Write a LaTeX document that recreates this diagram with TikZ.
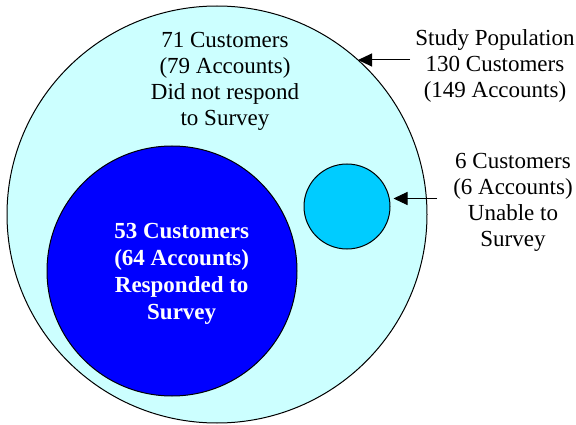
\documentclass[tikz,border=0pt]{standalone}
\usepackage{fontspec}
\setmainfont{Liberation Serif}
\usetikzlibrary{arrows.meta,shapes.geometric}
\definecolor{pale}{HTML}{CCFFFF}
\definecolor{deepblue}{HTML}{0000FF}
\definecolor{skyc}{HTML}{00CCFF}
\tikzset{
  disc/.style={ellipse,draw=black,line width=1pt,inner sep=0pt},
  lbl/.style={align=center,inner sep=0pt,font=\fontsize{23}{26.2}\selectfont},
  arr/.style={-{Triangle[length=14pt,width=13pt]},line width=1pt}
}
\begin{document}
\begin{tikzpicture}[x=1pt,y=-1pt]
\useasboundingbox (0,0) rectangle (576,425);
\node[disc,fill=pale,minimum width=420pt,minimum height=417pt] (big) at (217,214.5) {};
\node[disc,fill=deepblue,minimum width=250pt,minimum height=250pt] (resp) at (172,271) {};
\node[disc,fill=skyc,minimum width=86pt,minimum height=85pt] (unable) at (347,206.5) {};
\node[lbl] (didnot) at (225,81.5) {71 Customers\\(79 Accounts)\\Did not respond\\to Survey};
\node[lbl,text=white,font=\fontsize{23}{27}\selectfont\bfseries] (resptxt) at (181.7,273.5) {53 Customers\\(64 Accounts)\\Responded to\\Survey};
\node[lbl] (study) at (495,66) {Study Population\\130 Customers\\(149 Accounts)};
\node[lbl] (unabletxt) at (513,202.5) {6 Customers\\(6 Accounts)\\Unable to\\Survey};
\coordinate (studytip) at (358,60);
\coordinate (studytail) at (410,60);
\coordinate (unabletip) at ([xshift=3pt]unable.east |- 0,198.5);
\coordinate (unabletail) at (437,198.5);
\draw[arr] (studytail) -- (studytip);
\draw[arr] (unabletail) -- (unabletip);
\end{tikzpicture}
\end{document}
